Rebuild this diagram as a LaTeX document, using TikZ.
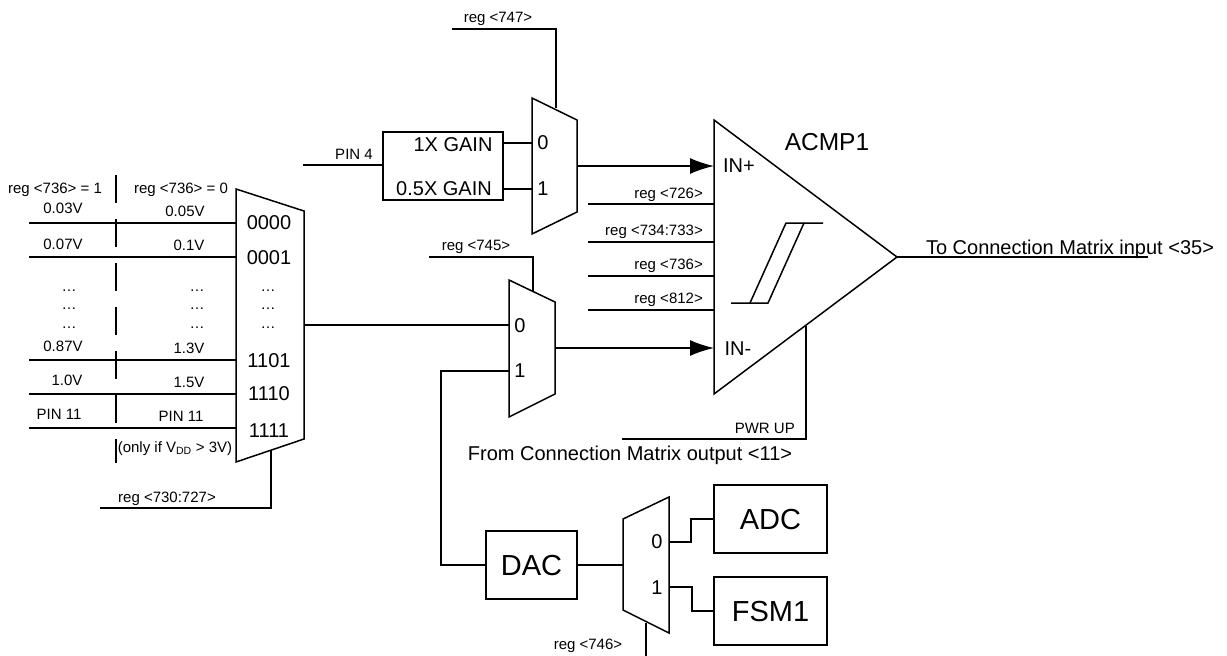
\documentclass[tikz,border=0pt]{standalone}
\usepackage{fontspec}
\setmainfont{Liberation Sans}
\usetikzlibrary{arrows.meta}

\tikzset{
    wire/.style={line width=1.5pt},
    arrowwire/.style={line width=1.5pt,-{Latex[length=24pt,width=16pt]}},
    blockbox/.style={draw,line width=1.5pt,inner sep=0pt},
    lbl/.style={inner sep=0pt,text height=10.7pt,text depth=0pt,font=\fontsize{15}{18}\selectfont},
    midlbl/.style={inner sep=0pt,text height=14.3pt,text depth=0pt,font=\fontsize{20}{24}\selectfont},
    biglbl/.style={inner sep=0pt,text height=20.8pt,text depth=0pt,font=\fontsize{29}{34}\selectfont},
}

\begin{document}
\begin{tikzpicture}[x=1pt,y=-1pt]
            \useasboundingbox (0,0) rectangle (1227,656);

            % corners of the muxes and of the comparator
            \coordinate (selTL) at (236,189);
            \coordinate (selTR) at (304,211);
            \coordinate (selBR) at (304,439);
            \coordinate (selBL) at (236,462);
            \coordinate (gainTL) at (532,98);
            \coordinate (gainTR) at (577,120);
            \coordinate (gainBR) at (577,212);
            \coordinate (gainBL) at (532,234);
            \coordinate (negTL) at (509,280);
            \coordinate (negTR) at (555,302);
            \coordinate (negBR) at (555,394);
            \coordinate (negBL) at (509,417);
            \coordinate (dacTL) at (623,519);
            \coordinate (dacTR) at (669,497);
            \coordinate (dacBR) at (669,633);
            \coordinate (dacBL) at (623,610);
            \coordinate (cmpT) at (714,120);
            \coordinate (cmpO) at (897,257);
            \coordinate (cmpB) at (714,394);

            \draw[wire] (selTL)--(selTR)--(selBR)--(selBL)--cycle;
            \draw[wire] (gainTL)--(gainTR)--(gainBR)--(gainBL)--cycle;
            \draw[wire] (negTL)--(negTR)--(negBR)--(negBL)--cycle;
            \draw[wire] (dacTL)--(dacTR)--(dacBR)--(dacBL)--cycle;
            \draw[wire] (cmpT)--(cmpO)--(cmpB)--cycle;

            \node[blockbox,minimum width=120pt,minimum height=68pt] (gainbox) at (443,166) {};
            \node[blockbox,minimum width=91pt,minimum height=68pt] (dac) at (531.5,565) {};
            \node[blockbox,minimum width=113pt,minimum height=68pt] (adc) at (770.5,519) {};
            \node[blockbox,minimum width=113pt,minimum height=68pt] (fsm) at (770.5,611) {};
            \node[biglbl] (dactxt) at (dac) {DAC};
            \node[biglbl] (adctxt) at (adc) {ADC};
            \node[biglbl] (fsmtxt) at (fsm) {FSM1};

            % selector inputs
            \foreach \y in {223,257,360,394,428}
            {
            \coordinate (in\y) at (29,\y);
            \coordinate (sel\y) at (236,\y);
            \draw[wire] (in\y)--(sel\y);
            }
            \coordinate (dashtop) at (116,175);
            \coordinate (dashbot) at (116,463);
            \draw[wire,dash pattern=on 28pt off 16pt] (dashtop)--(dashbot);

            \node[lbl] (hdrone) at (55,188) {reg <736> = 1};
            \node[lbl] (hdrzero) at (181,188) {reg <736> = 0};
            \foreach \x/\y/\t [count=\n] in {63/208/0.03V,185/211/0.05V,63/244/0.07V,189/245/0.1V,63/346/0.87V,189/348/1.3V,67/380/1.0V,189/382/1.5V,59/414/PIN 11,181/416/PIN 11}
            \node[lbl] (val\n) at (\x,\y) {\t};
            \foreach \y [count=\n] in {286,304,323}
            {
            \node[lbl] (dotsa\n) at (69,\y) {…};
            \node[lbl] (dotsb\n) at (197,\y) {…};
            \node[lbl] (dotsc\n) at (268,\y) {…};
            }
            \node[lbl] (onlyif) at (175,447) {(only if V\textsubscript{DD} > 3V)};

            \foreach \y/\t in {222/0000,257/0001,360/1101,393/1110,430/1111}
            \node[midlbl] (code\t) at (269,\y) {\t};

            % selector control and output
            \coordinate (selctl) at (271,450);
            \coordinate (selctlend) at (100,508);
            \draw[wire] (selctl)|-(selctlend);
            \node[lbl] (selreg) at (167,497) {reg <730:727>};
            \coordinate (selout) at (304,325);
            \coordinate (negzero) at (509,325);
            \draw[wire] (selout)--(negzero);

            % gain stage
            \coordinate (pinfour) at (303,165);
            \coordinate (gainin) at (383,165);
            \draw[wire] (pinfour)--(gainin);
            \node[lbl] (pinfourtxt) at (354,154) {PIN 4};
            \node[midlbl] (onex) at (453,144) {1X GAIN};
            \node[midlbl] (halfx) at (444,188) {0.5X GAIN};
            \coordinate (onexout) at (503,143);
            \coordinate (gainzero) at (532,143);
            \coordinate (halfxout) at (503,189);
            \coordinate (gainone) at (532,189);
            \draw[wire] (onexout)--(gainzero);
            \draw[wire] (halfxout)--(gainone);
            \node[midlbl] (gainzerotxt) at (543,142) {0};
            \node[midlbl] (gainonetxt) at (543,188) {1};
            \coordinate (gainctlend) at (452,29);
            \coordinate (gainctl) at (556,108);
            \draw[wire] (gainctlend)-|(gainctl);
            \node[lbl] (gainreg) at (498,17) {reg <747>};

            % comparator
            \coordinate (gainout) at (577,166);
            \coordinate (inplus) at (714,166);
            \draw[arrowwire] (gainout)--(inplus);
            \coordinate (negout) at (555,348);
            \coordinate (inminus) at (714,348);
            \draw[arrowwire] (negout)--(inminus);
            \node[midlbl] (inplustxt) at (739,165) {IN+};
            \node[midlbl] (inminustxt) at (738,348) {IN-};
            \node[inner sep=0pt,text height=17.5pt,text depth=0pt,font=\fontsize{24.5}{28}\selectfont] (acmp) at (827,142) {ACMP1};

            \foreach \y/\ty/\t in {204/193/reg <726>,242/230/reg <734:733>,276/264/reg <736>,310/298/reg <812>}
            {
            \coordinate (regend\y) at (588,\y);
            \coordinate (regcmp\y) at (714,\y);
            \draw[wire] (regend\y)--(regcmp\y);
            \node[lbl,anchor=east] (regtxt\y) at (703,\ty) {\t};
            }

            \coordinate (hysa) at (731,303);
            \coordinate (hysb) at (768,303);
            \coordinate (hysc) at (804,223);
            \coordinate (hysd) at (823,223);
            \coordinate (hyse) at (750,303);
            \coordinate (hysf) at (786,223);
            \draw[wire] (hysa)--(hysb)--(hysc)--(hysd);
            \draw[wire] (hyse)--(hysf)--(hysc);

            \coordinate (cmpoutend) at (1148,257);
            \draw[wire] (cmpO)--(cmpoutend);
            \node[midlbl] (totxt) at (1070,247) {To Connection Matrix input <35>};

            \coordinate (pwrend) at (622,439);
            \coordinate (pwrcmp) at (806,326);
            \draw[wire] (pwrend)-|(pwrcmp);
            \node[lbl,anchor=east] (pwrtxt) at (795,428) {PWR UP};
            \node[midlbl] (fromtxt) at (630,453) {From Connection Matrix output <11>};

            % second mux
            \coordinate (negctlend) at (429,257);
            \coordinate (negctl) at (533,292);
            \draw[wire] (negctlend)-|(negctl);
            \node[lbl] (negreg) at (476,245) {reg <745>};
            \node[midlbl] (negzerotxt) at (520,325) {0};
            \node[midlbl] (negonetxt) at (520,370) {1};
            \coordinate (negone) at (509,371);
            \draw[wire] (negone)-|(441,450)|-(dac.west);

            % dac routing
            \coordinate (dacmux) at (623,565);
            \draw[wire] (dac.east)--(dacmux);
            \node[midlbl] (daczero) at (657,541) {0};
            \node[midlbl] (daconetxt) at (657,587) {1};
            \coordinate (dacmuxzero) at (669,542);
            \coordinate (dacmuxone) at (669,587);
            \draw[wire] (dacmuxzero)-|(691,530)|-(adc.west);
            \draw[wire] (dacmuxone)-|(692,600)|-(fsm.west);
            \coordinate (dacctl) at (646,623);
            \coordinate (dacctlend) at (646,656);
            \draw[wire] (dacctl)--(dacctlend);
            \node[lbl] (dacreg) at (588,644) {reg <746>};
        \end{tikzpicture}
\end{document}
